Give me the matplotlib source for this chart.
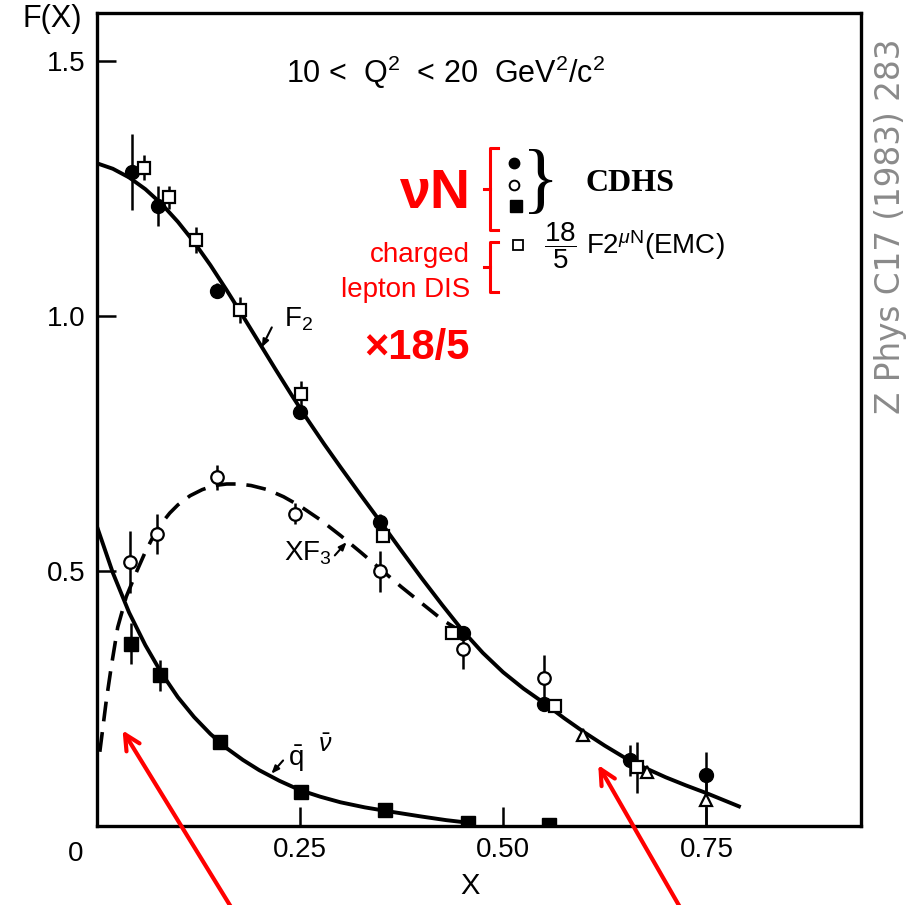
import matplotlib
matplotlib.use("Agg")
import matplotlib.pyplot as plt

plt.rcParams['font.family'] = ['Liberation Sans', 'DejaVu Sans']
plt.rcParams['mathtext.fontset'] = 'custom'
plt.rcParams['mathtext.rm'] = 'Liberation Sans'
plt.rcParams['mathtext.it'] = 'Liberation Sans:italic'

# CDHS neutrino data, 10 < Q^2 < 20
f2_x = [0.0435, 0.0755, 0.148, 0.250, 0.3485, 0.451, 0.5497, 0.6556, 0.750]
f2_y = [1.283, 1.216, 1.050, 0.812, 0.597, 0.378, 0.239, 0.129, 0.100]
f2_err = [0.075, 0.040, 0.015, 0.0, 0.015, 0.0, 0.0, 0.030, 0.045]

xf3_x = [0.0415, 0.0743, 0.148, 0.244, 0.3485, 0.451, 0.5505]
xf3_y = [0.518, 0.573, 0.684, 0.613, 0.500, 0.348, 0.290]
xf3_err = [0.060, 0.040, 0.024, 0.020, 0.040, 0.040, 0.045]

qbar_x = [0.0427, 0.0776, 0.1515, 0.252, 0.3547, 0.457, 0.557]
qbar_y = [0.358, 0.296, 0.165, 0.067, 0.031, 0.0065, 0.002]
qbar_err = [0.040, 0.030, 0.0, 0.0, 0.0, 0.0, 0.0]

# EMC muon data scaled by 18/5
emc_x = [0.058, 0.0887, 0.1227, 0.176, 0.251, 0.352, 0.437, 0.564, 0.665]
emc_y = [1.291, 1.233, 1.149, 1.012, 0.848, 0.569, 0.378, 0.235, 0.116]
emc_err = [0.025, 0.023, 0.026, 0.025, 0.025, 0.0, 0.0, 0.0, 0.050]

tri_x = [0.598, 0.677, 0.750]
tri_y = [0.178, 0.106, 0.051]
tri_err = [0.0, 0.0, 0.051]

# fitted curves
f2c_x = [0, 0.02, 0.04, 0.06, 0.08, 0.10, 0.12, 0.14, 0.16, 0.18, 0.20, 0.22,
         0.24, 0.26, 0.28, 0.30, 0.325, 0.35, 0.375, 0.40, 0.425, 0.45, 0.475,
         0.50, 0.525, 0.55, 0.575, 0.60, 0.625, 0.65, 0.675, 0.70, 0.725, 0.75,
         0.77, 0.79]
f2c_y = [1.300, 1.289, 1.272, 1.249, 1.220, 1.185, 1.145, 1.100, 1.051, 1.000,
         0.948, 0.896, 0.845, 0.796, 0.749, 0.704, 0.649, 0.595, 0.540, 0.486,
         0.434, 0.384, 0.340, 0.302, 0.270, 0.242, 0.212, 0.184, 0.158, 0.134,
         0.114, 0.096, 0.080, 0.065, 0.052, 0.039]

xf3c_x = [0.004, 0.012, 0.018, 0.026, 0.0365, 0.05, 0.06, 0.07, 0.08, 0.09,
          0.10, 0.115, 0.13, 0.145, 0.16, 0.175, 0.19, 0.21, 0.23, 0.25, 0.275,
          0.30, 0.325, 0.35, 0.375, 0.40, 0.425, 0.45]
xf3c_y = [0.146, 0.247, 0.312, 0.390, 0.450, 0.502, 0.538, 0.569, 0.594, 0.614,
          0.630, 0.648, 0.660, 0.668, 0.671, 0.671, 0.668, 0.660, 0.646, 0.628,
          0.601, 0.570, 0.537, 0.503, 0.469, 0.437, 0.405, 0.380]

qc_x = [0, 0.02, 0.04, 0.06, 0.08, 0.10, 0.12, 0.14, 0.16, 0.18, 0.20, 0.225,
        0.25, 0.275, 0.30, 0.33, 0.36, 0.40, 0.43, 0.457]
qc_y = [0.590, 0.497, 0.419, 0.355, 0.300, 0.253, 0.214, 0.181, 0.153, 0.130,
        0.110, 0.089, 0.071, 0.058, 0.047, 0.037, 0.029, 0.019, 0.012, 0.007]

fig = plt.figure(figsize=(9.11, 9.05), dpi=100)
ax = fig.add_axes([0.106, 0.087, 0.839, 0.899])
ax.set_xlim(0, 0.94)
ax.set_ylim(0, 1.595)

ax.plot(f2c_x, f2c_y, color='black', lw=2.8, zorder=2)
ax.plot(xf3c_x, xf3c_y, color='black', lw=2.6, ls=(0, (5.5, 3)), zorder=2)
ax.plot(qc_x, qc_y, color='black', lw=2.8, zorder=2)

eb = dict(capsize=0, elinewidth=1.8, ecolor='black', ls='none', zorder=3)
ax.errorbar(f2_x, f2_y, yerr=f2_err, fmt='o', ms=10, mfc='black', mec='black', **eb)
ax.errorbar(xf3_x, xf3_y, yerr=xf3_err, fmt='o', ms=9, mfc='white', mec='black', mew=1.6, **eb)
ax.errorbar(qbar_x, qbar_y, yerr=qbar_err, fmt='s', ms=9.5, mfc='black', mec='black', **eb)
ax.errorbar(emc_x, emc_y, yerr=emc_err, fmt='s', ms=9, mfc='white', mec='black', mew=1.6, **eb)
ax.errorbar(tri_x, tri_y, yerr=tri_err, fmt='^', ms=9, mfc='white', mec='black', mew=1.6, **eb)

for s in ax.spines.values():
    s.set_linewidth(2.4)
ax.tick_params(direction='in', length=14, width=1.8, labelsize=20, pad=8)
ax.set_xticks([0.25, 0.5, 0.75])
ax.set_xticklabels(['0.25', '0.50', '0.75'])
ax.set_yticks([0.5, 1.0, 1.5])
ax.set_yticklabels(['0.5', '1.0', '1.5'])
ax.text(-0.026, -0.055, '0', fontsize=20, ha='center', va='center', clip_on=False)
fig.text(0.057, 0.979, 'F(X)', fontsize=22, ha='center', va='center')
fig.text(0.516, 0.021, 'X', fontsize=21, ha='center', va='center')

ax.text(0.4286, 1.478, r'10 <  Q$^2$  < 20  GeV$^2$/c$^2$', fontsize=22,
        ha='center', va='center')

# curve labels with small pointer arrows
small_arrow = dict(arrowstyle='-|>,head_length=0.45,head_width=0.18',
                   color='black', lw=1.5, shrinkA=0, shrinkB=0)
ax.text(0.248, 0.994, r'F$_2$', fontsize=20, ha='center', va='center')
ax.annotate('', xy=(0.2032, 0.939), xytext=(0.2155, 0.978), arrowprops=small_arrow)
ax.text(0.26, 0.535, r'XF$_3$', fontsize=20, ha='center', va='center')
ax.annotate('', xy=(0.3075, 0.557), xytext=(0.293, 0.531), arrowprops=small_arrow)
ax.text(0.245, 0.133, r'$\bar{\mathrm{q}}$', fontsize=20, ha='center', va='center')
ax.text(0.281, 0.160, r'$\bar{\nu}$', fontsize=18, ha='center', va='center')
ax.annotate('', xy=(0.215, 0.103), xytext=(0.2294, 0.129), arrowprops=small_arrow)

# legend block
ax.plot([0.5135], [1.300], 'o', ms=7.5, color='black')
ax.plot([0.5135], [1.257], 'o', ms=7, mfc='white', mec='black', mew=1.4)
ax.plot([0.516], [1.216], 's', ms=8.5, color='black')
ax.text(0.5456, 1.257, '}', fontsize=56, ha='center', va='center',
        family='Liberation Serif')
ax.text(0.601, 1.261, 'CDHS', fontsize=23, fontweight='bold', ha='left',
        va='center', family='Liberation Serif')
ax.plot([0.5185], [1.139], 's', ms=7, mfc='white', mec='black', mew=1.3)
ax.text(0.550, 1.139, r'$\dfrac{18}{5}$ F2$^{\mu \mathrm{N}}$(EMC)', fontsize=20,
        ha='left', va='center')

# red annotations
red = '#ff0000'
ax.text(0.459, 1.240, 'νN', fontsize=40, fontweight='bold', color=red,
        ha='right', va='center')
ax.text(0.459, 1.120, 'charged', fontsize=20, color=red, ha='right', va='center')
ax.text(0.459, 1.051, 'lepton DIS', fontsize=20, color=red, ha='right', va='center')
ax.text(0.459, 0.937, '×18/5', fontsize=30, fontweight='bold', color=red,
        ha='right', va='center')

for y0, y1, ym in [(1.329, 1.169, 1.249), (1.145, 1.047, 1.096)]:
    ax.plot([0.494, 0.484, 0.484, 0.494], [y0, y0, y1, y1], color=red, lw=2.2)
    ax.plot([0.476, 0.484], [ym, ym], color=red, lw=2.2)

arrow = dict(arrowstyle='->,head_length=1.1,head_width=0.55', color=red, lw=3,
             shrinkA=0, shrinkB=0)
ax.annotate('', xy=(0.032, 0.188), xytext=(0.166, -0.16), arrowprops=arrow,
            annotation_clip=False)
ax.annotate('', xy=(0.617, 0.120), xytext=(0.718, -0.16), arrowprops=arrow,
            annotation_clip=False)

fig.text(0.978, 0.75, 'Z Phys C17 (1983) 283', rotation=90, fontsize=23.5,
         color='#8a8a8a', ha='center', va='center', family='DejaVu Sans')

fig.savefig('out.png', dpi=100)
